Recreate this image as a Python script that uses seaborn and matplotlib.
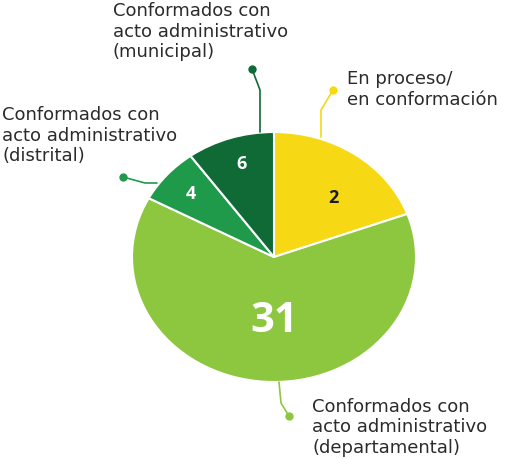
import matplotlib
matplotlib.use("Agg")
import matplotlib.pyplot as plt
import seaborn as sns

# datos
categorias = [
    "En proceso/\nen conformación",
    "Conformados con\nacto administrativo\n(departamental)",
    "Conformados con\nacto administrativo\n(distrital)",
    "Conformados con\nacto administrativo\n(municipal)",
]
conteos = [2, 31, 4, 6]
# tamaño de cada porción tal como se dibuja en la figura (%)
porciones = [19.4, 63.4, 7.2, 10.0]
colores = ["#F6D914", "#8DC63F", "#1F9A4B", "#0F6A36"]
color_num = ["#1a1a1a", "white", "white", "white"]

W, H = 512, 459
CX, CY, RX, RY = 274, 257, 142, 125


def px(x, y):
    # pixel (desde arriba-izquierda) -> coordenadas de datos
    return (x - CX) / RX, (CY - y) / RY


sns.set_theme(style="white")
plt.rcParams["font.family"] = ["DejaVu Sans"]

fig = plt.figure(figsize=(W / 100, H / 100), dpi=100)
ax = fig.add_axes([0, 0, 1, 1])

wedges, _ = ax.pie(
    porciones,
    colors=colores,
    startangle=90,
    counterclock=False,
    radius=1,
    wedgeprops=dict(edgecolor="white", linewidth=1.5),
)
ax.set_aspect("auto")
x0, _ = px(0, 0)
x1, _ = px(W, 0)
_, y1 = px(0, 0)
_, y0 = px(0, H)
ax.set_xlim(x0, x1)
ax.set_ylim(y0, y1)
ax.axis("off")

# números dentro de las porciones
pos_num = [(333, 198), (274, 322), (191, 194), (242, 164)]
tam_num = [13, 30, 13, 13]
for (x, y), n, c, s in zip(pos_num, conteos, color_num, tam_num):
    ax.text(*px(x, y), str(n), ha="center", va="center", color=c,
            fontsize=s, fontweight="bold", family="Open Sans")

# líneas guía y etiquetas
guias = [
    [(333, 90), (321, 110), (321, 137)],
    [(289, 416), (281, 403), (279, 382)],
    [(123, 177), (145, 183), (157, 183)],
    [(252, 69), (260, 90), (260, 132)],
]
for pts, col in zip(guias, colores):
    xs, ys = zip(*[px(x, y) for x, y in pts])
    ax.plot(xs, ys, color=col, lw=1.2, solid_capstyle="round")
    ax.plot(xs[0], ys[0], "o", color=col, ms=6, mec="none")

pos_txt = [(347, 70), (312, 457), (2, 106), (113, 2)]
va_txt = ["top", "bottom", "top", "top"]
for (x, y), t, va in zip(pos_txt, categorias, va_txt):
    ax.text(*px(x, y), t, ha="left", va=va, color="#2b2b2b",
            fontsize=13, linespacing=1.18)

plt.savefig("out.png", dpi=100)
